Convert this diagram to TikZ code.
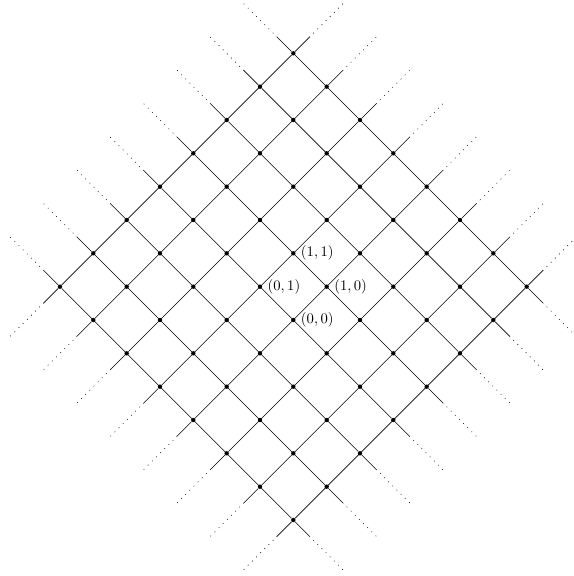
\documentclass[tikz,border=0pt]{standalone}
\usetikzlibrary{positioning}
\tikzset{
  vertex/.style={circle,fill,inner sep=0pt,minimum size=3pt},
  fade/.style={dash pattern=on 0.6pt off 3.4pt,dash phase=0.8pt}
}
\begin{document}
\begin{tikzpicture}[x={(0.8cm,0.8cm)},y={(-0.8cm,0.8cm)}]
\useasboundingbox (-7.04cm,-6.144cm) rectangle (6.712cm,7.68cm);
\foreach \a in {-3,...,4}
  \foreach \b in {-3,...,4}
    \node[vertex] (p\a\b) at (\a,\b) {};
%
\foreach \i in {-3,...,4}{
  \coordinate (w\i) at (-3.5,\i);
  \coordinate (ww\i) at (-4.5,\i);
  \coordinate (e\i) at (4.5,\i);
  \coordinate (ee\i) at (5.5,\i);
  \coordinate (s\i) at (\i,-3.5);
  \coordinate (ss\i) at (\i,-4.5);
  \coordinate (n\i) at (\i,4.5);
  \coordinate (nn\i) at (\i,5.5);
  \draw (w\i) -- (p-3\i) -- (p4\i) -- (e\i);
  \draw (s\i) -- (p\i-3) -- (p\i4) -- (n\i);
  \draw[fade] (w\i) -- (ww\i);
  \draw[fade] (e\i) -- (ee\i);
  \draw[fade] (s\i) -- (ss\i);
  \draw[fade] (n\i) -- (nn\i);
}
%
\node[right=0pt of p00] (l00) {$(0,0)$};
\node[right=0pt of p10] (l10) {$(1,0)$};
\node[right=0pt of p01] (l01) {$(0,1)$};
\node[right=0pt of p11] (l11) {$(1,1)$};

\end{tikzpicture}
\end{document}
